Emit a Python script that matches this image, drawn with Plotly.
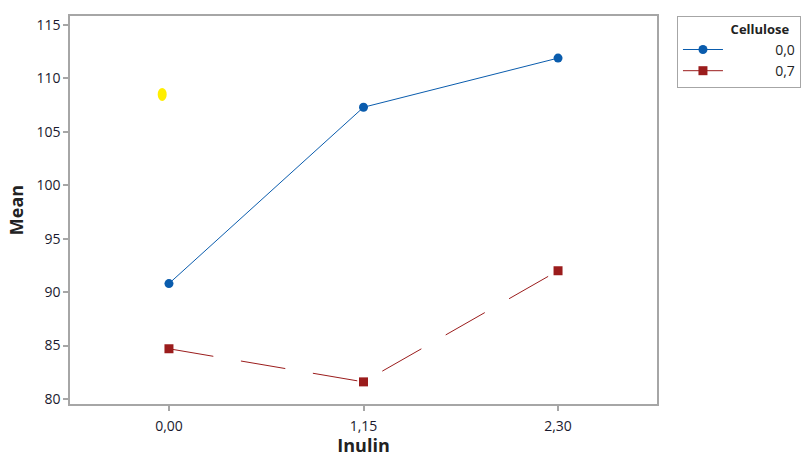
import plotly.graph_objects as go

inulin = [0.0, 1.15, 2.30]
tick_labels = ["0,00", "1,15", "2,30"]
mean_cell_00 = [90.8, 107.3, 111.9]
mean_cell_07 = [84.7, 81.6, 92.0]
series_names = ["0,0", "0,7"]
yellow_x = [-0.04]
yellow_y = [108.5]

FONT = "Open Sans, Noto Sans, sans-serif"

fig = go.Figure()
fig.add_trace(go.Scatter(
    x=inulin, y=mean_cell_00, mode="lines+markers",
    name="\u00a0" * 13 + series_names[0],
    line=dict(color="#0a5cad", width=1),
    marker=dict(symbol="circle", size=9, color="#0a5cad"),
))
fig.add_trace(go.Scatter(
    x=inulin, y=mean_cell_07, mode="lines+markers",
    name="\u00a0" * 13 + series_names[1],
    line=dict(color="#9b1c1c", width=1, dash="45px,28px"),
    marker=dict(symbol="square", size=9, color="#9b1c1c"),
))
for xv, yv in zip(yellow_x, yellow_y):
    fig.add_shape(type="circle", xref="x", yref="y",
                  xsizemode="pixel", ysizemode="pixel",
                  xanchor=xv, yanchor=yv,
                  x0=-4.5, x1=4.5, y0=-6.5, y1=6.5,
                  fillcolor="#ffee00", line=dict(width=0))

axis_common = dict(
    showline=True, linecolor="#a6a6a6", linewidth=1.5, mirror=True,
    ticks="outside", ticklen=5, tickcolor="#a6a6a6", tickwidth=1.5,
    showgrid=False, zeroline=False, automargin=False,
    tickfont=dict(family=FONT, size=14, color="#1a1a2e"),
)

fig.update_layout(
    width=801, height=457,
    margin=dict(l=70, r=144, t=16, b=53, autoexpand=False),
    plot_bgcolor="white", paper_bgcolor="white",
    xaxis=dict(
        **axis_common,
        range=[-0.585, 2.885],
        tickvals=inulin, ticktext=tick_labels,
        ticklabelstandoff=3,
        title=dict(text="<b>Inulin</b>", font=dict(family=FONT, size=18, color="#222"), standoff=8),
    ),
    yaxis=dict(
        **axis_common,
        range=[79.53, 115.84],
        tickvals=[80, 85, 90, 95, 100, 105, 110, 115],
        title=dict(text="<b>Mean</b>", font=dict(family=FONT, size=18, color="#222"), standoff=8),
    ),
    legend=dict(
        x=1.034, y=1, xanchor="left", yanchor="top",
        bordercolor="#a6a6a6", borderwidth=1,
        title=dict(text="\u00a0" * 15 + "<b>Cellulose</b>", font=dict(family=FONT, size=13, color="#222")),
        font=dict(family=FONT, size=14, color="#222"),
        tracegroupgap=0, itemwidth=40,
    ),
    showlegend=True,
)

fig.write_html("out.html")
